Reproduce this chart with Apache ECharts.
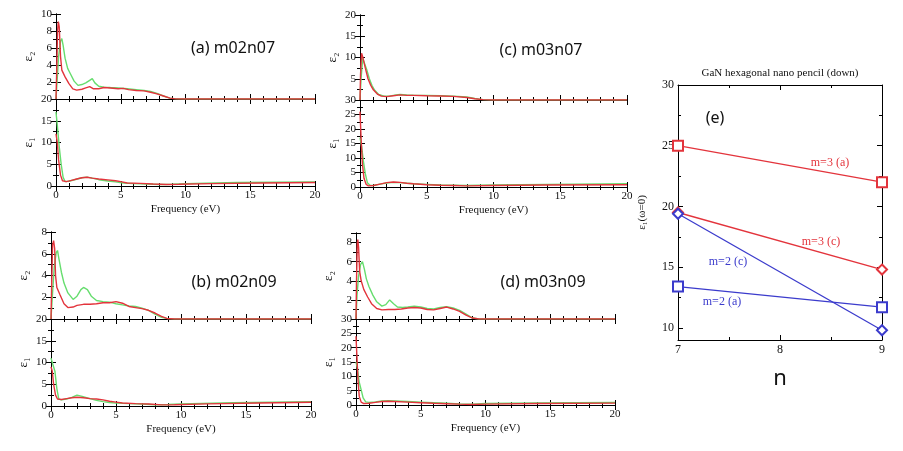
<!DOCTYPE html>
<html><head><meta charset="utf-8">
<script src="https://cdn.jsdelivr.net/npm/echarts@6/dist/echarts.min.js"></script>
<style>html,body{margin:0;padding:0;background:#fff}#c{width:903px;height:451px}</style>
</head><body><div id="c"></div>
<script>
// ---------- data ----------
const freqTicks = [0, 5, 10, 15, 20];

const a_e2_red = [[0,0],[0.05,3],[0.12,8],[0.18,9.1],[0.25,8.5],[0.35,5],[0.45,3.4],[0.7,2.6],[1.0,1.8],[1.3,1.2],[1.6,1.05],[2.0,1.15],[2.3,1.3],[2.6,1.45],[2.9,1.2],[3.3,1.2],[3.7,1.35],[4.2,1.3],[4.8,1.2],[5.2,1.25],[5.6,1.1],[6.2,1.0],[6.8,0.95],[7.3,0.8],[7.8,0.6],[8.3,0.35],[8.8,0.1],[9.2,0.02],[10,0],[20,0]];
const a_e2_green = [[0,0],[0.1,2.5],[0.2,5],[0.35,6.8],[0.45,7.1],[0.55,6.3],[0.7,4.8],[0.9,3.6],[1.1,3.0],[1.4,2.1],[1.7,1.6],[2.0,1.7],[2.3,1.9],[2.6,2.2],[2.8,2.4],[3.0,1.9],[3.3,1.5],[3.7,1.4],[4.2,1.35],[4.8,1.3],[5.5,1.2],[6.2,1.1],[6.8,1.0],[7.3,0.9],[7.8,0.65],[8.3,0.35],[8.8,0.1],[9.3,0.02],[10,0],[20,0]];
const a_e1_red = [[0,12],[0.1,10],[0.2,6],[0.35,2.5],[0.5,1.2],[0.8,1.0],[1.2,1.3],[1.6,1.6],[2.0,1.9],[2.4,2.0],[2.8,1.8],[3.3,1.6],[4.0,1.4],[4.6,1.2],[5.0,1.0],[5.5,0.7],[6.5,0.6],[7.5,0.45],[8.5,0.35],[9.5,0.4],[12,0.55],[16,0.7],[20,0.8]];
const a_e1_green = [[0,17],[0.1,14],[0.25,9],[0.4,5],[0.55,2],[0.7,1.0],[1.0,1.1],[1.5,1.5],[2.0,1.9],[2.4,2.05],[2.8,1.8],[3.3,1.45],[4.0,1.15],[4.6,0.95],[5.2,0.7],[6,0.55],[7,0.45],[8,0.35],[9,0.4],[10,0.55],[14,0.8],[20,0.95]];

const c_e2_red = [[0,0],[0.04,6],[0.12,11],[0.2,10.2],[0.4,7.5],[0.6,5],[0.8,3.5],[1.0,2.4],[1.3,1.4],[1.6,0.9],[2.0,0.8],[2.5,1.0],[3.0,1.2],[3.5,1.1],[4.0,1.1],[5.0,1.0],[6.0,0.95],[7.0,0.85],[8.0,0.6],[8.6,0.3],[9.2,0.08],[10,0],[20,0]];
const c_e2_green = [[0,0],[0.08,5],[0.2,9.8],[0.3,9.6],[0.5,7.2],[0.7,5],[0.9,3.4],[1.1,2.3],[1.4,1.3],[1.8,0.9],[2.2,0.9],[2.7,1.2],[3.0,1.3],[3.5,1.2],[4,1.15],[5,1.1],[6,1.0],[7,0.9],[8,0.7],[8.6,0.35],[9.2,0.1],[10,0],[20,0]];
const c_e1_red = [[0,26],[0.08,17],[0.18,8],[0.3,3],[0.45,1],[0.6,0.4],[1.0,0.5],[1.5,1.0],[2.0,1.5],[2.5,1.7],[3.0,1.6],[3.5,1.3],[4.0,1.1],[5,0.8],[6,0.6],[7,0.5],[8,0.4],[10,0.5],[14,0.7],[20,0.8]];
const c_e1_green = [[0,17],[0.12,14],[0.25,9],[0.4,4.5],[0.55,1.5],[0.75,0.6],[1.0,0.5],[1.5,1.0],[2.0,1.4],[2.5,1.6],[3.0,1.5],[3.5,1.3],[4,1.1],[5,0.9],[6,0.7],[7,0.6],[8,0.5],[10,0.7],[14,0.9],[20,1.1]];

const b_e2_red = [[0,0],[0.05,3],[0.12,6.8],[0.2,7.2],[0.28,6.5],[0.35,4],[0.45,2.9],[0.7,2.2],[1.0,1.4],[1.3,1.05],[1.7,1.1],[2.0,1.25],[2.5,1.35],[3.0,1.35],[3.5,1.4],[4.0,1.5],[4.5,1.5],[5.0,1.6],[5.5,1.45],[6.0,1.15],[6.5,1.05],[7.0,0.95],[7.5,0.8],[8.0,0.55],[8.5,0.25],[8.9,0.05],[9.5,0],[20,0]];
const b_e2_green = [[0,0],[0.1,2],[0.25,4.8],[0.4,6.1],[0.5,6.3],[0.6,5.6],[0.8,4.3],[1.0,3.3],[1.3,2.4],[1.7,1.8],[2.0,2.1],[2.3,2.7],[2.5,2.9],[2.8,2.7],[3.1,2.1],[3.5,1.7],[4.0,1.6],[4.5,1.55],[5.0,1.4],[5.5,1.3],[6.0,1.2],[6.5,1.15],[7.0,1.0],[7.5,0.8],[8.0,0.45],[8.5,0.15],[9.0,0.03],[9.5,0],[20,0]];
const b_e1_red = [[0,9],[0.1,8],[0.2,5],[0.35,2.5],[0.5,1.6],[0.8,1.5],[1.2,1.7],[1.6,1.9],[2.0,2.0],[2.5,1.9],[3.0,1.7],[3.5,1.6],[4.0,1.4],[4.5,1.1],[5,0.9],[5.5,0.7],[6.5,0.55],[7.5,0.45],[8.5,0.25],[9.5,0.3],[12,0.5],[16,0.7],[20,0.85]];
const b_e1_green = [[0,11],[0.15,10.6],[0.3,8],[0.45,4],[0.6,1.6],[0.8,1.4],[1.2,1.6],[1.6,2.0],[2.0,2.5],[2.4,2.2],[3.0,1.7],[3.5,1.3],[4.0,1.0],[4.5,0.8],[5,0.65],[6,0.55],[7,0.45],[8,0.3],[9,0.35],[10,0.5],[14,0.75],[20,1.0]];

const d_e2_red = [[0,0],[0.04,4],[0.1,8.0],[0.14,8.3],[0.2,7.5],[0.28,5],[0.4,4],[0.6,3.1],[0.9,2.3],[1.2,1.6],[1.6,1.1],[2.0,0.95],[2.5,1.0],[3.0,1.0],[3.5,1.05],[4.0,1.15],[4.5,1.2],[5.0,1.15],[5.5,1.0],[6.0,0.95],[6.5,1.1],[7.0,1.25],[7.5,1.05],[8.0,0.8],[8.5,0.4],[9.0,0.1],[9.5,0],[20,0]];
const d_e2_green = [[0,0],[0.08,2.5],[0.2,4.5],[0.35,5.7],[0.5,6.0],[0.65,5.2],[0.8,4.2],[1.0,3.4],[1.3,2.5],[1.6,1.8],[2.0,1.35],[2.3,1.5],[2.6,2.0],[2.9,1.6],[3.2,1.25],[3.6,1.2],[4.0,1.25],[4.5,1.35],[5.0,1.25],[5.5,1.1],[6.0,1.05],[6.5,1.2],[7.0,1.3],[7.5,1.15],[8.0,0.9],[8.5,0.5],[9.0,0.1],[9.5,0],[20,0]];
const d_e1_red = [[0,24],[0.06,18],[0.15,9],[0.25,3],[0.4,1.0],[0.6,0.5],[1.0,0.6],[1.5,0.9],[2.0,1.2],[2.5,1.3],[3.0,1.2],[4.0,1.0],[5,0.8],[6,0.6],[7,0.45],[8,0.3],[9,0.2],[10,0.3],[14,0.5],[20,0.65]];
const d_e1_green = [[0,15],[0.1,13],[0.25,8],[0.4,5.3],[0.55,2.5],[0.75,1.1],[1.0,0.9],[1.5,1.1],[2.0,1.4],[2.5,1.5],[3.0,1.4],[4.0,1.2],[5,1.0],[6,0.8],[7,0.6],[8,0.4],[9,0.3],[10,0.5],[14,0.7],[20,0.85]];

// panel (e)
const nValues = [7, 9];
const m3a = [25.0, 22.0];
const m3c = [19.5, 14.8];
const m2c = [19.4, 9.8];
const m2a = [13.4, 11.7];
const eYTicks = [10, 15, 20, 25, 30];
const eYMinorTicks = [12.5, 17.5, 22.5, 27.5];
const eXTicks = [7, 8, 9];

// ---------- layout ----------
const RED = '#e3343c', GREEN = '#66dd6e', BLUE = '#3b3bcc';
const SERIF = 'Liberation Serif';
const grid = [], xAxis = [], yAxis = [], series = [];

function addPlot(rect, o) {
  const g = grid.length;
  grid.push({left: rect[0], top: rect[1], width: rect[2], height: rect[3]});
  const tickCommon = {inside: true, length: 5, lineStyle: {color: '#000'}};
  const minorCommon = {show: true, splitNumber: o.xMinor || 5, length: 3, lineStyle: {color: '#000'}};
  const base = {gridIndex: g, type: 'value', min: o.xMin, max: o.xMax, interval: o.xInt,
    axisLine: {lineStyle: {color: '#000', width: 1}}, splitLine: {show: false}, minorSplitLine: {show: false},
    axisTick: tickCommon, minorTick: minorCommon};
  const xi = xAxis.length;
  xAxis.push(Object.assign({}, base, {position: 'bottom',
    axisLabel: {show: !!o.xLabel, color: '#111', fontFamily: SERIF, fontSize: o.fs || 11, margin: 4},
    name: o.xName || '', nameLocation: 'middle', nameGap: o.xNameGap || 18,
    nameTextStyle: o.xNameStyle || {color: '#111', fontFamily: SERIF, fontSize: 11}}));
  xAxis.push(Object.assign({}, base, {position: 'top', axisLabel: {show: false}}));
  const yi = yAxis.length;
  const ybase = {gridIndex: g, type: 'value', min: o.yMin, max: o.yMax,
    axisLine: {lineStyle: {color: '#000', width: 1}}, splitLine: {show: false}, minorSplitLine: {show: false}};
  if (o.yCustom) {
    yAxis.push(Object.assign({}, ybase, {position: 'left',
      axisTick: Object.assign({customValues: o.yCustom}, tickCommon),
      axisLabel: {customValues: o.yCustom, color: '#111', fontFamily: SERIF, fontSize: o.fs || 11, margin: 4},
      name: o.yName, nameLocation: 'middle', nameGap: o.yNameGap || 20,
      nameTextStyle: {color: '#111', fontFamily: SERIF, fontSize: 11}}));
    yAxis.push(Object.assign({}, ybase, {position: 'left', axisLine: {show: false},
      axisTick: {customValues: o.yMinorCustom, inside: true, length: 3, lineStyle: {color: '#000'}}, axisLabel: {show: false}}));
    yAxis.push(Object.assign({}, ybase, {position: 'right',
      axisTick: Object.assign({customValues: o.yCustom}, tickCommon), axisLabel: {show: false}}));
    yAxis.push(Object.assign({}, ybase, {position: 'right', axisLine: {show: false},
      axisTick: {customValues: o.yMinorCustom, inside: true, length: 3, lineStyle: {color: '#000'}}, axisLabel: {show: false}}));
  } else {
    const yb = Object.assign({}, ybase, {interval: o.yInt, axisTick: tickCommon,
      minorTick: {show: true, splitNumber: 2, length: 3, lineStyle: {color: '#000'}}});
    yAxis.push(Object.assign({}, yb, {position: 'left',
      axisLabel: {color: '#111', fontFamily: SERIF, fontSize: o.fs || 11, margin: 4,
        showMinLabel: !o.hideMin, showMaxLabel: !o.hideMax},
      name: o.yName, nameLocation: 'middle', nameGap: o.yNameGap || 20,
      nameTextStyle: {color: '#111', fontFamily: SERIF, fontSize: 13}}));
    yAxis.push(Object.assign({}, yb, {position: 'right', axisLabel: {show: false}}));
  }
  return {xi, yi};
}

function addLine(ax, data, color) {
  series.push({type: 'line', xAxisIndex: ax.xi, yAxisIndex: ax.yi, data: data, showSymbol: false,
    symbol: 'none', lineStyle: {color: color, width: 1.4}, clip: true, silent: true});
}

const panels = [
  {rect2: [56, 14, 259, 85], rect1: [56, 99, 259, 87], e2: [10, 2], e1: [20, 5],
   d: [a_e2_red, a_e2_green, a_e1_red, a_e1_green]},
  {rect2: [360, 15, 267, 85], rect1: [360, 100, 267, 87], e2: [20, 5], e1: [30, 5],
   d: [c_e2_red, c_e2_green, c_e1_red, c_e1_green]},
  {rect2: [51, 232, 260, 87], rect1: [51, 319, 260, 87], e2: [8, 2], e1: [20, 5],
   d: [b_e2_red, b_e2_green, b_e1_red, b_e1_green]},
  {rect2: [356, 233, 259, 86], rect1: [356, 319, 259, 86], e2: [9, 2], e1: [30, 5], hideMax: true,
   d: [d_e2_red, d_e2_green, d_e1_red, d_e1_green]}
];

panels.forEach(p => {
  const ax2 = addPlot(p.rect2, {xMin: freqTicks[0], xMax: freqTicks[freqTicks.length - 1], xInt: 5,
    yMin: 0, yMax: p.e2[0], yInt: p.e2[1], yName: 'ε₂', hideMin: true, hideMax: p.hideMax, yNameGap: 21});
  addLine(ax2, p.d[1], GREEN);
  addLine(ax2, p.d[0], RED);
  const ax1 = addPlot(p.rect1, {xMin: freqTicks[0], xMax: freqTicks[freqTicks.length - 1], xInt: 5,
    yMin: 0, yMax: p.e1[0], yInt: p.e1[1], yName: 'ε₁', xLabel: true, xName: 'Frequency (eV)', yNameGap: 21});
  addLine(ax1, p.d[3], GREEN);
  addLine(ax1, p.d[2], RED);
});

// panel (e)
const axE = addPlot([678, 85, 204, 255], {xMin: eXTicks[0], xMax: eXTicks[eXTicks.length - 1], xInt: 1, xMinor: 2,
  yMin: 9, yMax: 30, yCustom: eYTicks, yMinorCustom: eYMinorTicks, yName: 'ε₁(ω=0)', yNameGap: 30,
  xLabel: true, xName: 'n', xNameGap: 28, fs: 12,
  xNameStyle: {color: '#111', fontFamily: 'Noto Sans', fontSize: 22}});

function addE(vals, color, sym) {
  series.push({type: 'line', xAxisIndex: axE.xi, yAxisIndex: axE.yi,
    data: nValues.map((n, i) => [n, vals[i]]), symbol: sym, symbolSize: 10,
    lineStyle: {color: color, width: 1.3}, itemStyle: {color: color, borderColor: color, borderWidth: 1.3},
    clip: false, silent: true});
}
addE(m3a, RED, 'emptyRect');
addE(m3c, RED, 'emptyDiamond');
addE(m2c, BLUE, 'emptyDiamond');
addE(m2a, BLUE, 'emptyRect');

const txt = (x, y, s, color, font, size) => ({type: 'text', x: x, y: y,
  style: {text: s, fill: color, font: size + 'px "' + font + '"', textAlign: 'center', textVerticalAlign: 'middle'}});

const chart = echarts.init(document.getElementById('c'), null, {renderer: 'canvas'});
chart.setOption({
  animation: false,
  grid, xAxis, yAxis, series,
  graphic: [
    txt(233, 48, '(a) m02n07', '#111', 'Noto Sans', 16),
    txt(541, 50, '(c) m03n07', '#111', 'Noto Sans', 16),
    txt(234, 282, '(b) m02n09', '#111', 'Noto Sans', 16),
    txt(543, 282, '(d) m03n09', '#111', 'Noto Sans', 16),
    txt(715, 118, '(e)', '#111', 'Noto Sans', 16),
    txt(780, 73, 'GaN hexagonal nano pencil (down)', '#111', SERIF, 11),
    txt(830, 163, 'm=3 (a)', RED, SERIF, 12),
    txt(821, 242, 'm=3 (c)', RED, SERIF, 12),
    txt(728, 262, 'm=2 (c)', BLUE, SERIF, 12),
    txt(722, 302, 'm=2 (a)', BLUE, SERIF, 12)
  ]
});
</script></body></html>
